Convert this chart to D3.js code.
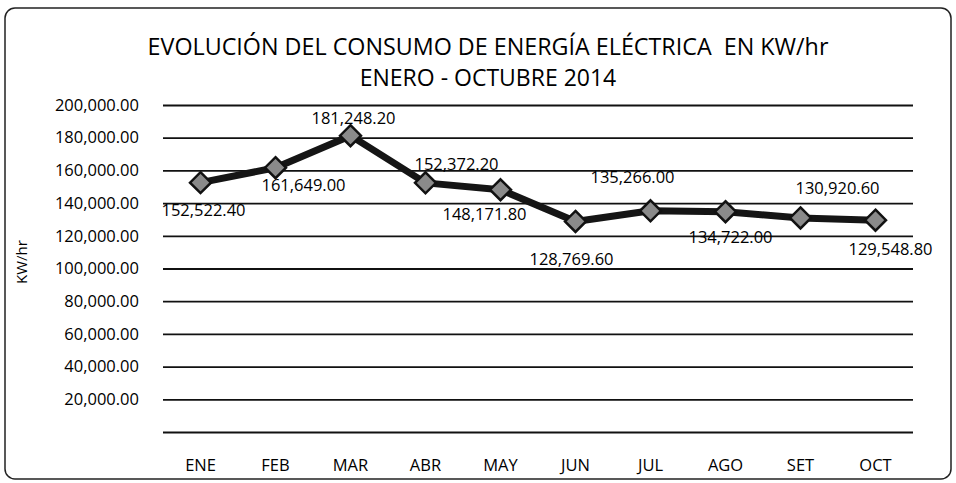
<!DOCTYPE html>
<html>
<head>
<meta charset="utf-8">
<script src="https://cdn.jsdelivr.net/npm/d3@7"></script>
<style>
  body { margin: 0; background: #fff; }
  text { font-family: "Open Sans", "Noto Sans", sans-serif; fill: #000; }
</style>
</head>
<body>
<div id="viz"></div>
<script>
'use strict';

const width = 956;
const height = 483;

// data
const months = ["ENE", "FEB", "MAR", "ABR", "MAY", "JUN", "JUL", "AGO", "SET", "OCT"];
const consumo = [152522.40, 161649.00, 181248.20, 152372.20, 148171.80, 128769.60, 135266.00, 134722.00, 130920.60, 129548.80];
const yTicks = [0, 20000, 40000, 60000, 80000, 100000, 120000, 140000, 160000, 180000, 200000];

// where each data label sits relative to its marker
const labelOffset = [[3, 29], [28, 19], [3, -16], [31, -17], [-16, 26], [-4, 39], [-18, -32], [5, 27], [37, -28], [15, 30]];

const margin = {left: 163, right: 43, top: 105, bottom: 51};

const svg = d3.select("#viz")
    .append("svg")
    .attr("width", width)
    .attr("height", height);

// outer frame
svg.append("rect")
    .attr("x", 5).attr("y", 8)
    .attr("width", width - 10).attr("height", height - 12)
    .attr("rx", 10)
    .attr("fill", "none")
    .attr("stroke", "#222")
    .attr("stroke-width", 1.5);

let x = d3.scaleBand()
    .domain(months)
    .range([margin.left, width - margin.right]);

let y = d3.scaleLinear()
    .domain([0, 200000])
    .range([height - margin.bottom, margin.top]);

const fmt = d3.format(",.2f");

// title
svg.append("text")
    .attr("x", 488).attr("y", 55)
    .attr("text-anchor", "middle")
    .style("font-size", "23.3px")
    .style("white-space", "pre")
    .text("EVOLUCIÓN DEL CONSUMO DE ENERGÍA ELÉCTRICA  EN KW/hr");
svg.append("text")
    .attr("x", 488).attr("y", 86)
    .attr("text-anchor", "middle")
    .style("font-size", "23px")
    .text("ENERO - OCTUBRE 2014");

// gridlines + y labels
const yAxis = svg.append("g")
    .attr("transform", `translate(${margin.left},0)`)
    .call(d3.axisLeft(y).tickValues(yTicks).tickFormat(d => d === 0 ? "" : fmt(d))
        .tickSize(-(width - margin.left - margin.right)).tickPadding(24));
yAxis.select(".domain").remove();
yAxis.selectAll(".tick line")
    .attr("stroke", "#111")
    .attr("stroke-width", 1.8);
yAxis.selectAll(".tick text")
    .style("font-size", "16.5px")
    .attr("fill", "#000");

// x labels
const xAxis = svg.append("g")
    .attr("transform", `translate(0,${height - margin.bottom})`)
    .call(d3.axisBottom(x).tickSize(0).tickPadding(27));
xAxis.select(".domain").remove();
xAxis.selectAll(".tick text")
    .style("font-size", "16.5px")
    .attr("fill", "#000");

// y title
svg.append("text")
    .attr("transform", "translate(27,262) rotate(-90)")
    .attr("text-anchor", "middle")
    .style("font-size", "15px")
    .text("KW/hr");

const cx = (d, i) => x(months[i]) + x.bandwidth() / 2;

let line = d3.line()
    .x((d, i) => cx(d, i))
    .y(d => y(d));

svg.append("path")
    .datum(consumo)
    .attr("fill", "none")
    .attr("stroke", "#151515")
    .attr("stroke-width", 7)
    .attr("stroke-linejoin", "round")
    .attr("d", line);

svg.append("g").selectAll("path")
    .data(consumo)
    .enter()
    .append("path")
    .attr("d", d3.symbol().type(d3.symbolDiamond2).size(280))
    .attr("transform", (d, i) => `translate(${cx(d, i)},${y(d)})`)
    .attr("fill", "#8a8a8a")
    .attr("stroke", "#111")
    .attr("stroke-width", 2.5);

svg.append("g").selectAll("text")
    .data(consumo)
    .enter()
    .append("text")
    .attr("x", (d, i) => cx(d, i) + labelOffset[i][0])
    .attr("y", (d, i) => y(d) + labelOffset[i][1])
    .attr("text-anchor", "middle")
    .attr("dominant-baseline", "middle")
    .style("font-size", "16.5px")
    .text(d => fmt(d));
</script>
</body>
</html>
